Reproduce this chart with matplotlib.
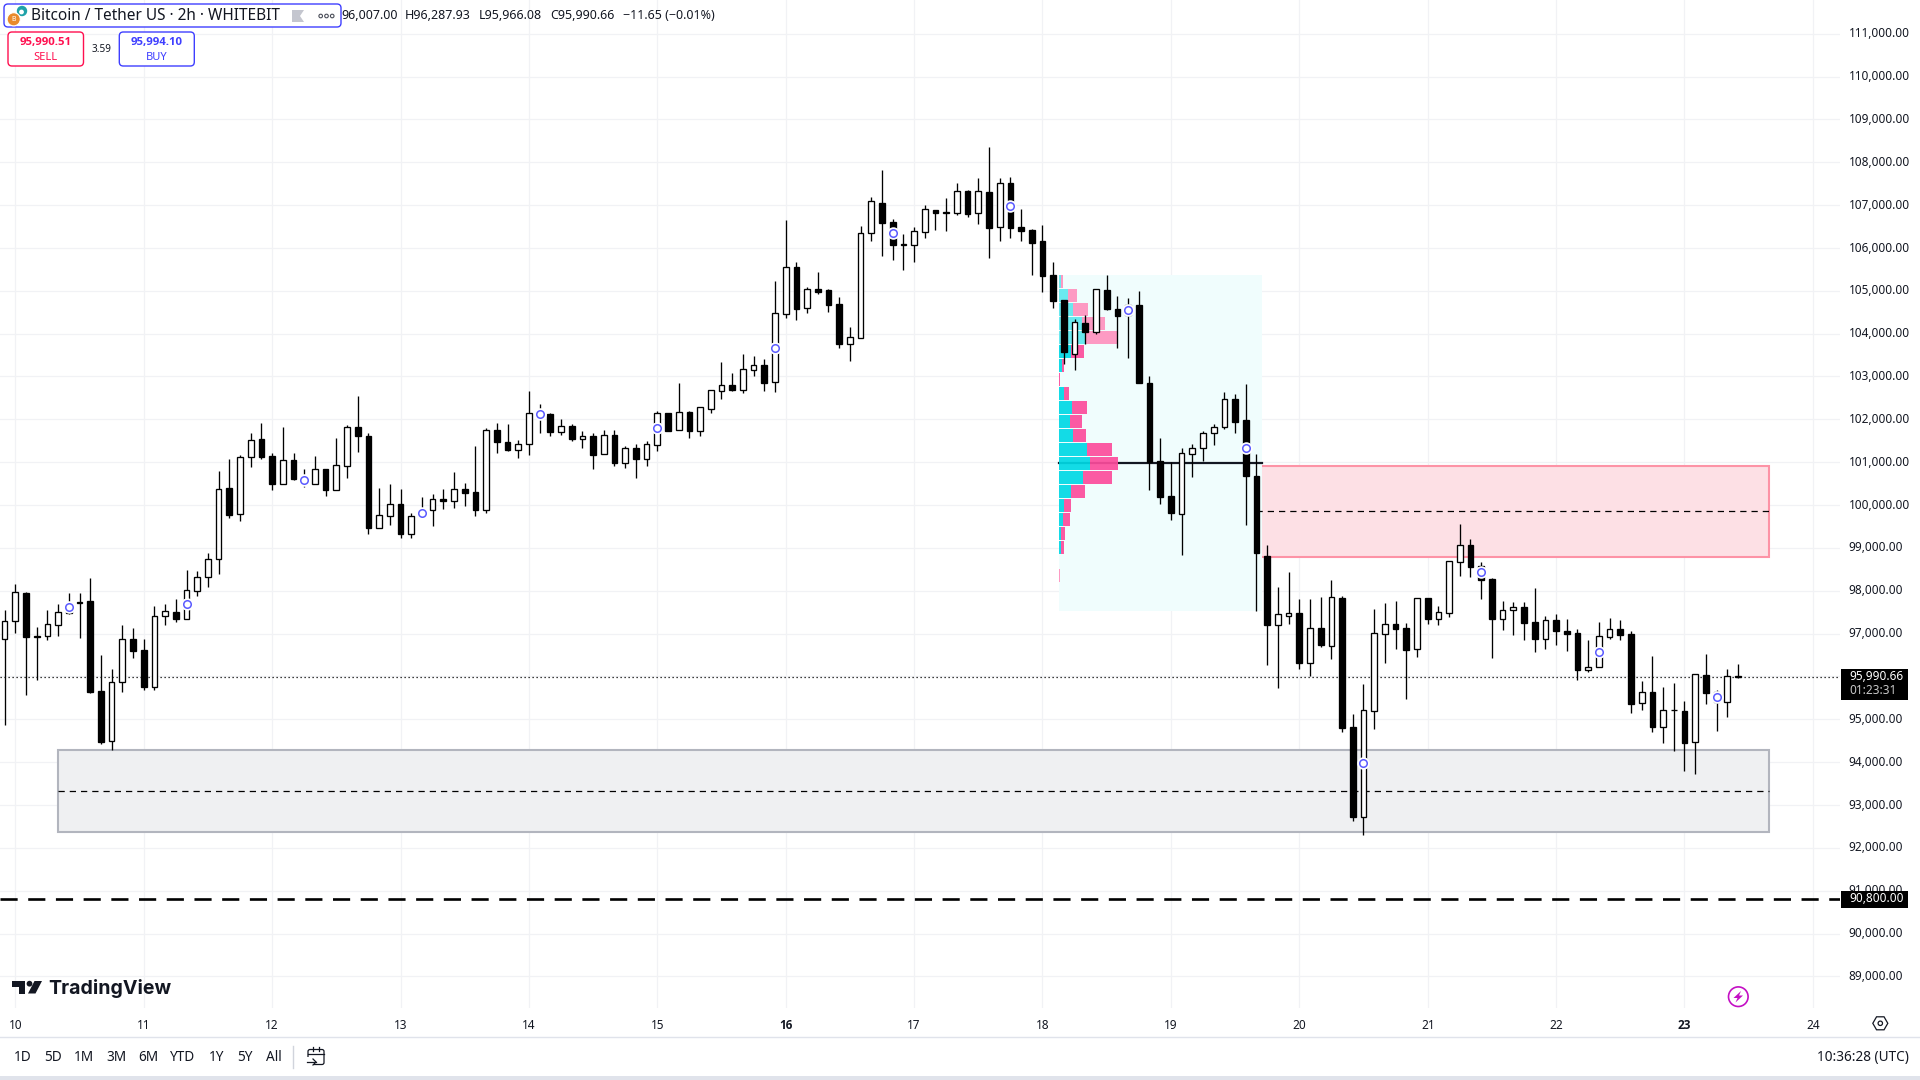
from matplotlib import pyplot as plt
from matplotlib.patches import Rectangle, FancyBboxPatch, Circle, Polygon
from matplotlib.transforms import ScaledTranslation
import numpy as np

plt.rcParams['font.family'] = ['Noto Sans', 'DejaVu Sans']

# candles are 2h, index 0 is the start of day 10, index -1 is the bar before it
first_index = -1
opens = [96880,97290,97950,96920,96950,97190,97470,97720,97760,95660,94500,95860,96880,96620,95760,97400,
         97510,97350,98000,98310,98730,100390,99780,101110,101540,101150,100500,101050,100510,100500,100840,100360,
         100920,101820,101610,99470,99750,100030,99330,99740,99890,100140,100100,100380,100310,99880,101750,101470,
         101290,101420,102030,102130,101710,101850,101550,101610,101180,101640,100990,101330,101080,101410,102140,101740,
         102170,101730,102250,102670,102800,102690,103160,103270,102860,104470,105560,104610,105040,105020,104690,103770,
         103910,106340,107050,106610,106070,106060,106380,106890,106820,106810,107330,106810,107310,106480,107520,106490,
         106420,106160,105370,104790,103530,104250,104050,105020,104580,104440,104670,102850,101030,100210,99800,101180,
         101320,101670,101810,102480,101990,100680,98810,97210,97400,97480,96320,97130,96720,97830,94820,92730,
         95200,97000,97230,97130,96630,97830,97350,97490,98680,99070,98570,98280,97330,97540,97620,97270,
         96880,97310,97060,97020,96150,96210,96930,97110,96990,95370,95640,94830,95210,95190,94460,96030,
         95410,95410,96007]
highs = [97550,98160,97970,97150,97550,97690,97950,97950,98300,96500,96170,97200,97130,96880,97650,97690,
         97810,98490,98460,98880,100800,101080,101170,101680,101920,101220,101820,101220,100840,101150,100840,101570,
         101870,102550,101680,100400,100490,100380,99820,100190,100260,100380,100770,100520,101380,101790,101910,101890,
         101520,102660,102360,102150,102010,101890,101730,101680,101750,101750,101380,101430,101500,102200,102140,102850,
         102200,102280,102680,103340,103080,103530,103480,103410,105230,106650,105670,105090,105440,105040,104860,104160,
         106510,107190,107820,106680,106330,106490,107000,106890,107170,107520,107350,107630,108360,107630,107660,106910,
         106440,106540,105670,104790,104340,104440,105040,105370,104880,104830,105000,103010,101570,101010,101330,101430,
         101730,101890,102640,102590,102830,101190,99070,98090,98440,97810,97810,97860,98250,97880,95120,95820,
         97580,97720,97760,97250,97820,97830,97650,98690,99560,99210,98670,98300,97760,97740,97740,98070,
         97410,97460,97340,97110,96850,97270,97370,97320,97060,95900,96480,95750,95850,95430,96050,96520,
         95680,96170,96287.93]
lows = [94870,97020,95570,95920,96840,96950,97460,96900,95610,94420,94280,95640,96430,95680,95680,97200,
        97270,97350,97880,98090,98390,99700,99630,100890,101080,100350,100500,100590,100420,100500,100210,100360,
        100630,101240,99330,99470,99540,99230,99230,99730,99510,99910,99930,99980,99750,99820,101220,101270,
        101100,101170,101690,101610,101640,101500,101330,100840,101180,100910,100870,100630,100910,101260,101730,101740,
        101570,101610,102150,102480,102660,102620,103010,102660,102640,104370,104320,104480,104930,104510,103670,103360,
        103910,106160,105810,105720,105490,105670,106230,106420,106400,106770,106720,106560,105770,106160,106230,106160,
        105370,104970,104600,103290,103150,103760,103990,104550,103670,103430,102850,100350,100030,99650,98840,100660,
        101030,101400,101780,101680,99540,97530,96270,95730,97230,96180,96010,96690,96410,94700,92630,92300,
        94770,96320,96640,95470,96460,97230,97200,97390,98350,98320,97810,96430,97090,96970,96850,96570,
        96640,96740,96600,95920,96100,96210,96880,96850,95150,95220,94700,94450,94260,93790,93720,95360,
        94730,95050,95966.08]
closes = [97290,97960,96920,96950,97220,97500,97720,97730,95640,94470,95860,96870,96600,95760,97400,97520,
          97350,98010,98310,98730,100370,99770,101120,101510,101120,100490,101050,100610,100650,100840,100350,100930,
          101820,101610,99470,99760,100020,99330,99740,99890,100130,100100,100370,100280,99890,101750,101460,101290,
          101420,102140,102180,101710,101840,101540,101610,101170,101640,100980,101330,101080,101420,102140,101730,102170,
          101730,102280,102680,102800,102690,103170,103260,102850,104480,105550,104580,105040,104970,104670,103760,103920,
          106340,107090,106580,106070,106090,106390,106900,106820,106830,107320,106790,107320,106470,107510,106470,106400,
          106120,105350,104760,103570,104270,104040,105040,104580,104410,104670,102850,101010,100190,99820,101210,101330,
          101680,101820,102470,101940,100680,98880,97200,97450,97470,96320,97120,96740,97850,94800,92720,95210,
          97010,97220,97110,96620,97820,97340,97500,98690,99060,98560,98250,97340,97540,97610,97250,96880,
          97310,97060,96990,96150,96210,96940,97100,96970,95360,95630,94820,95210,95210,94450,96050,95610,
          95630,96000,95990.66]

# small blue circles, one every 11 bars
circle_index = [5,16,27,38,49,60,71,82,93,104,115,126,137,148,159]
circle_price = [97610,97680,100580,99810,102120,101790,103660,106340,106990,104550,101330,93970,98430,96580,95510]

# boxes: left index, right index, top price, bottom price, mid line
sell_zone = [116, 163.9, 100910, 98790, 99850]
demand_zone = [4, 163.9, 94280, 92370, 93320]
support_level = 90800
last_price = 95990.66

# volume profile on the pale box
profile_box = [97.55, 116.5, 105370, 97530]
profile_poc = 100970
profile_up = [6,26,42,69,78,36,9,0,15,39,33,43,84,93,72,36,15,12,6,6,0,0]
profile_down = [6,28,45,69,97,39,6,3,15,45,36,38,75,84,87,42,21,21,12,9,0,3]
profile_pale = [0,1,2,3,4,21]

day_labels = ['10','11','12','13','14','15','16','17','18','19','20','21','22','23','24']
bold_days = ['16','23']
price_ticks = list(range(89000, 112000, 1000))
ranges = ['1D','5D','1M','3M','6M','YTD','1Y','5Y','All']
range_x = [22.7,53,83.7,116,148,183,217,245.3,273.7]
legend_values = ['96,007.00','H96,287.93','L95,966.08','C95,990.66','\u221211.65 (\u22120.01%)']
legend_x = [341.5,404.5,478.5,550,623]

INK = '#131722'
GRID = '#f1f2f5'
BLUE = '#3f3fff'
RED = '#ff0f4f'
BOLD_FONT = ['Open Sans', 'Liberation Sans', 'DejaVu Sans']

fig = plt.figure(figsize=(19.2, 10.8), dpi=100, facecolor='white')
ax = fig.add_axes([0, 72/1080, 1840/1920, 1008/1080])
ax.set_xlim(-15.3/10.7, (1840-15.3)/10.7)
ax.set_ylim(95000+(719.3-1008)*23.337, 95000+719.3*23.337)
for s in ax.spines.values():
    s.set_visible(False)

ax.set_axisbelow(True)
ax.grid(True, color=GRID, linewidth=0.9)
ax.yaxis.tick_right()
ax.set_yticks(price_ticks)
ax.set_yticklabels(['{:,.2f}'.format(p) for p in price_ticks], fontsize=8.5, color=INK)
ax.set_xticks(np.arange(len(day_labels))*12)
ax.set_xticklabels(day_labels, fontsize=8.5, color=INK)
for t in ax.get_xticklabels():
    if t.get_text() in bold_days:
        t.set_fontweight('bold')
        t.set_family(BOLD_FONT)
ax.tick_params(axis='both', length=0)
ax.tick_params(axis='y', pad=6.3)
ax.tick_params(axis='x', pad=8.2)
# nudge the price labels up a little so they sit on their grid lines
for t in ax.get_yticklabels():
    t.set_transform(t.get_transform()+ScaledTranslation(0, 1.4/100, fig.dpi_scale_trans))

# zones
for zone, face, edge in [(sell_zone, '#fde0e5', '#fd93a6'), (demand_zone, '#eff0f2', '#b2b5be')]:
    left, right, top, bottom, mid = zone
    ax.add_patch(Rectangle((left, bottom), right-left, top-bottom, facecolor=face, edgecolor=edge, linewidth=1.5, zorder=1))
    ax.plot([left, right], [mid, mid], color='black', linewidth=0.9, dashes=(5, 4), zorder=1.5)

# volume profile, its bars lie over the point of control line
left, right, top, bottom = profile_box
ax.add_patch(Rectangle((left, bottom), right-left, top-bottom, facecolor='#f0fdfd', edgecolor='none', zorder=1.2))
ax.plot([left, right], [profile_poc, profile_poc], color=INK, linewidth=1.6, zorder=1.5)
row_h = 42/3*23.337
bar_scale = 1/3/10.7
for n in range(len(profile_up)):
    y = top-row_h*(n+0.5)+row_h*0.03
    cy, pk = ('#5fe8ee', '#ff92be') if n in profile_pale else ('#00d9e5', '#fd4c9c')
    ax.barh(y, profile_up[n]*bar_scale, height=row_h*0.93, left=left, color=cy, alpha=0.92, zorder=1.6)
    ax.barh(y, profile_down[n]*bar_scale, height=row_h*0.93, left=left+profile_up[n]*bar_scale, color=pk, alpha=0.92, zorder=1.6)

# levels
ax.plot(ax.get_xlim(), [support_level, support_level], color='black', linewidth=1.9, dashes=(6.5, 4), zorder=2)
ax.plot(ax.get_xlim(), [last_price, last_price], color='black', linewidth=0.9, dashes=(1, 2.2), zorder=2)

# candles
idx = np.arange(len(opens))+first_index
o, h, l, c = np.array(opens), np.array(highs), np.array(lows), np.array(closes)
ax.vlines(idx, l, h, color='black', linewidth=0.95, zorder=3)
up = c >= o
ax.bar(idx[up], (c-o)[up], bottom=o[up], width=0.53, facecolor='white', edgecolor='black', linewidth=0.95, zorder=4)
ax.bar(idx[~up], (c-o)[~up], bottom=o[~up], width=0.53, facecolor='black', edgecolor='black', linewidth=0.95, zorder=4)
ax.plot(circle_index, circle_price, linestyle='none', marker='o', ms=8, mfc='white', mec='white', zorder=5)
ax.plot(circle_index, circle_price, linestyle='none', marker='o', ms=5.4, mfc='white', mec='#5a5aff', mew=1.1, zorder=6)

# everything around the chart, drawn on a pixel sized overlay
ui = fig.add_axes([0, 0, 1, 1], zorder=10)
ui.set_xlim(0, 1920)
ui.set_ylim(1080, 0)
ui.axis('off')
ui.patch.set_visible(False)

def py(price):
    return 719.3-(price-95000)/23.337

# price tags
ui.add_patch(Rectangle((1841, py(last_price)-7.7), 66.7, 30.4, facecolor='black', edgecolor='none'))
ui.text(1849, py(last_price)-0.8, '95,990.66', fontsize=8.5, color='white', va='center', ha='left')
ui.text(1849, py(last_price)+14, '01:23:31', fontsize=8.5, color='#c8c8c8', va='center', ha='left')
ui.add_patch(Rectangle((1841, py(support_level)-8.3), 66.7, 16.7, facecolor='black', edgecolor='none'))
ui.text(1849, py(support_level)-0.8, '90,800.00', fontsize=8.5, color='white', va='center', ha='left')

# header
ui.add_patch(FancyBboxPatch((7, 7), 331, 17, boxstyle='round,pad=3,rounding_size=4', facecolor='white', edgecolor=BLUE, linewidth=1))
ui.add_patch(Circle((22, 11), 5.2, facecolor='#1fa2a8', edgecolor='none'))
ui.add_patch(Circle((21.5, 12), 2.4, facecolor='white', edgecolor='none'))
ui.add_patch(Circle((13.7, 19.3), 6.6, facecolor='#e98a2b', edgecolor='white', linewidth=0.8))
ui.text(13.7, 19.5, 'B', fontsize=5, color='white', ha='center', va='center')
ui.text(31, 15.5, 'Bitcoin / Tether US \u00b7 2h \u00b7 WHITEBIT', fontsize=11.1, color=INK, va='center', ha='left')
ui.add_patch(Polygon([(292, 10), (304, 10), (300, 16), (304, 22), (292, 22)], facecolor='#c4c6cf', edgecolor='none'))
for x in [320.7, 326.5, 332.2]:
    ui.add_patch(Circle((x, 16), 1.8, facecolor='white', edgecolor='#4a4e59', linewidth=0.8))
for s, x in zip(legend_values, legend_x):
    ui.text(x, 15.5, s, fontsize=9, color=INK, va='center', ha='left')

# sell and buy buttons
ui.add_patch(FancyBboxPatch((11, 35), 69.5, 28, boxstyle='round,pad=3,rounding_size=4', facecolor='white', edgecolor=RED, linewidth=1))
ui.text(45.7, 42.5, '95,990.51', fontsize=8.2, fontweight='bold', family=BOLD_FONT, color=RED, ha='center', va='center')
ui.text(45.7, 57, 'SELL', fontsize=8, color=RED, ha='center', va='center')
ui.text(101, 50, '3.59', fontsize=7.2, color=INK, ha='center', va='center')
ui.add_patch(FancyBboxPatch((122.3, 35), 69, 28, boxstyle='round,pad=3,rounding_size=4', facecolor='white', edgecolor=BLUE, linewidth=1))
ui.text(156.8, 42.5, '95,994.10', fontsize=8.2, fontweight='bold', family=BOLD_FONT, color=BLUE, ha='center', va='center')
ui.text(156.8, 57, 'BUY', fontsize=8, color=BLUE, ha='center', va='center')

# TradingView logo
ui.add_patch(Polygon([(12, 981), (25, 981), (25, 993.5), (18.5, 993.5), (18.5, 987), (12, 987)], facecolor=INK, edgecolor='none'))
ui.add_patch(Circle((29.5, 983.7), 2.9, facecolor=INK, edgecolor='none'))
ui.add_patch(Polygon([(34.5, 981), (42, 981), (35.5, 993.5), (28, 993.5)], facecolor=INK, edgecolor='none'))
ui.text(48.5, 988.5, 'TradingView', fontsize=14.1, fontweight='bold', color=INK, family=['Inter', 'DejaVu Sans'], va='center', ha='left')

# bottom bar
ui.plot([0, 1920], [1037.3, 1037.3], color='#e0e3eb', linewidth=1)
ui.add_patch(Rectangle((0, 1076), 1920, 4, facecolor='#e0e3eb', edgecolor='none'))
for s, x in zip(ranges, range_x):
    ui.text(x, 1057.5, s, fontsize=9.8, color=INK, ha='center', va='center')
ui.plot([292.5, 292.5], [1046, 1068], color='#d1d4dc', linewidth=1)
ui.add_patch(FancyBboxPatch((308, 1049.5), 16, 15, boxstyle='round,pad=0,rounding_size=2', facecolor='none', edgecolor=INK, linewidth=0.9))
ui.add_patch(Rectangle((305, 1057), 9, 10, facecolor='white', edgecolor='none'))
ui.plot([308, 324], [1053.5, 1053.5], color=INK, linewidth=0.9)
ui.plot([313, 313], [1047, 1051], color=INK, linewidth=0.9)
ui.plot([319, 319], [1047, 1051], color=INK, linewidth=0.9)
ui.plot([306.5, 316], [1062, 1062], color=INK, linewidth=0.9)
ui.plot([313, 316, 313], [1059, 1062, 1065], color=INK, linewidth=0.9)
ui.text(1909, 1057.2, '10:36:28 (UTC)', fontsize=9.8, color=INK, ha='right', va='center')

# bolt badge and settings icon
ui.add_patch(Circle((1738.3, 996.7), 9.8, facecolor='white', edgecolor='#c40fc4', linewidth=1.2))
ui.add_patch(Polygon([(1741, 991), (1733.5, 998), (1737.5, 998), (1735.5, 1002.5), (1743, 995.5), (1739, 995.5)], facecolor='#c40fc4', edgecolor='none'))
ang = np.radians(np.arange(0, 360, 60))
ui.add_patch(Polygon(np.column_stack([1880.3+7.5*np.cos(ang), 1023.3+7.5*np.sin(ang)]), facecolor='white', edgecolor=INK, linewidth=0.9))
ui.add_patch(Circle((1880.3, 1023.3), 2.2, facecolor='white', edgecolor=INK, linewidth=0.9))

fig.savefig('out.png', dpi=100)
